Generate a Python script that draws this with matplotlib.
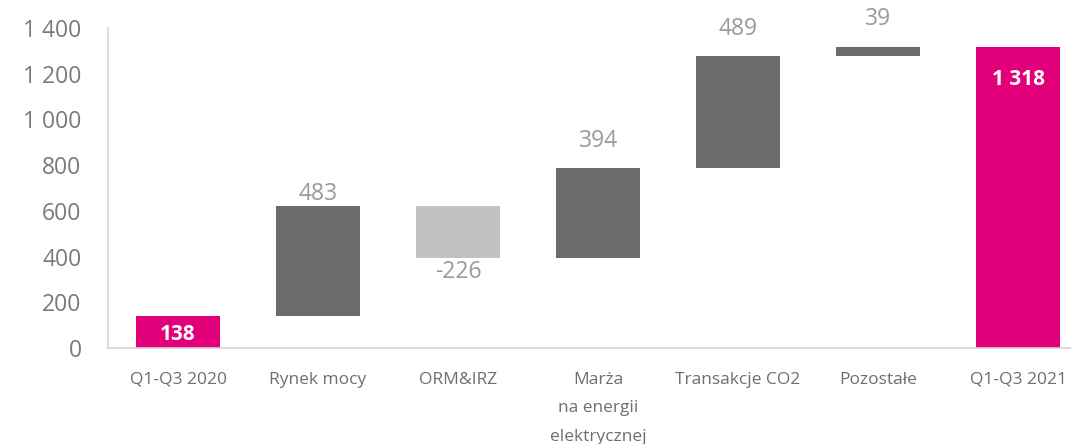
import matplotlib.pyplot as plt
from matplotlib.ticker import FuncFormatter

plt.rcParams['font.family'] = ['Open Sans', 'DejaVu Sans']

categories = ["Q1-Q3 2020", "Rynek mocy", "ORM&IRZ", "Marża\nna energii\nelektrycznej",
              "Transakcje CO2", "Pozostałe", "Q1-Q3 2021"]
values = [138, 483, -226, 394, 489, 39, 1318]
kinds = ["total", "up", "down", "up", "up", "up", "total"]

colors = {"total": "#E2007A", "up": "#6B6B6B", "down": "#C2C2C2"}

# waterfall: bottom + height of each bar
bottoms = []
heights = []
run = 0
for v, k in zip(values, kinds):
    if k == "total":
        bottoms.append(0)
        heights.append(v)
        run = v
    else:
        bottoms.append(run if v >= 0 else run + v)
        heights.append(abs(v))
        run += v

fig = plt.figure(figsize=(10.71, 4.44), dpi=100)
ax = fig.add_axes([108/1071, (444-348)/444, 1 - 108/1071, 320/444])

x = list(range(len(values)))
ax.bar(x, heights, bottom=bottoms, width=0.6,
       color=[colors[k] for k in kinds], zorder=2)

lbl_gap = [0, 12, 14, 27, 27, 28, 0]


def fmt(v):
    return f"{int(v):,}".replace(",", " ")


for i, (v, k) in enumerate(zip(values, kinds)):
    txt = fmt(abs(v))
    if v < 0:
        txt = "-" + txt
    top = bottoms[i] + heights[i]
    if k == "total":
        if heights[i] > 300:
            ax.annotate(txt, (i, top), xytext=(0, -33), textcoords="offset pixels",
                        ha="center", va="center", color="white", fontsize=15,
                        fontweight="bold")
        else:
            ax.annotate(txt, (i, top / 2), xytext=(0, -2), textcoords="offset pixels",
                        ha="center", va="center", color="white", fontsize=15,
                        fontweight="bold")
    elif v >= 0:
        ax.annotate(txt, (i, top), xytext=(0, lbl_gap[i]),
                    textcoords="offset pixels", ha="center", va="center",
                    color="#9A9A9A", fontsize=16.5)
    else:
        ax.annotate(txt, (i, bottoms[i]), xytext=(0, -lbl_gap[i]),
                    textcoords="offset pixels", ha="center", va="center",
                    color="#9A9A9A", fontsize=16.5)

ax.set_xlim(-0.5, 6.5 - 17/140)
ax.set_ylim(0, 1400)
ax.set_yticks(range(0, 1401, 200))
ax.yaxis.set_major_formatter(FuncFormatter(lambda v, p: fmt(v)))
ax.set_xticks(x)
ax.set_xticklabels(categories, linespacing=2.05)
ax.tick_params(axis="y", length=0, pad=19, labelsize=16.5, labelcolor="#7A7A7A")
ax.tick_params(axis="x", length=0, pad=17, labelsize=12.5, labelcolor="#6E6E6E")
for s in ["top", "right"]:
    ax.spines[s].set_visible(False)
for s in ["left", "bottom"]:
    ax.spines[s].set_color("#D4D4D4")
    ax.spines[s].set_linewidth(1.2)

fig.savefig("out.png", dpi=100)
